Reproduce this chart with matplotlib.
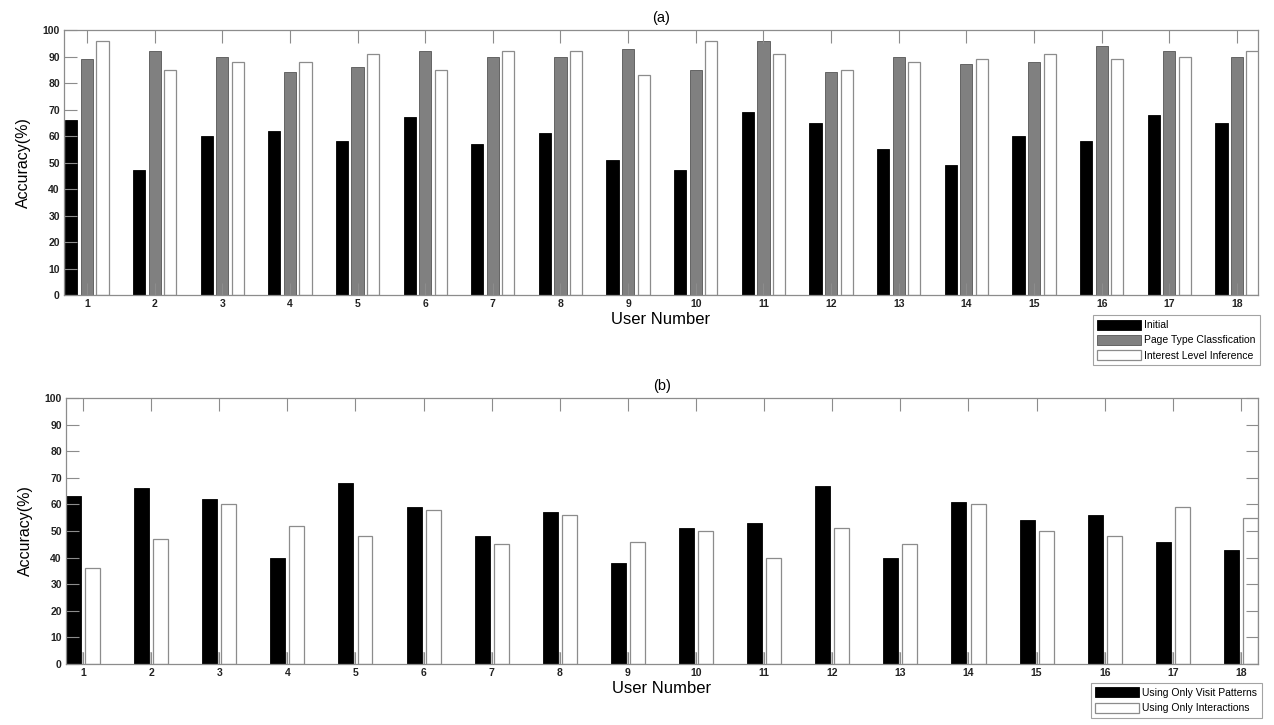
import numpy as np
import matplotlib
matplotlib.use("Agg")
import matplotlib.pyplot as plt

plt.rcParams["font.family"] = ["Liberation Sans", "DejaVu Sans"]

users = list(range(1, 19))

# panel (a)
initial = [66, 47, 60, 62, 58, 67, 57, 61, 51, 47, 69, 65, 55, 49, 60, 58, 68, 65]
page_type = [89, 92, 90, 84, 86, 92, 90, 90, 93, 85, 96, 84, 90, 87, 88, 94, 92, 90]
interest = [96, 85, 88, 88, 91, 85, 92, 92, 83, 96, 91, 85, 88, 89, 91, 89, 90, 92]

# panel (b)
visit_only = [63, 66, 62, 40, 68, 59, 48, 57, 38, 51, 53, 67, 40, 61, 54, 56, 46, 43]
interact_only = [36, 47, 60, 52, 48, 58, 45, 56, 46, 50, 40, 51, 45, 60, 50, 48, 59, 55]
hidden_b = [4.5] * 18

FRAME = "#8c8c8c"


def style_axes(ax, xlim, right_ticks=True):
    ax.set_xlim(*xlim)
    ax.set_ylim(0, 100)
    ax.set_xticks(users)
    ax.set_yticks(range(0, 101, 10))
    ax.tick_params(direction="in", length=9, width=0.8, color=FRAME,
                   labelsize=7.5, top=True, right=right_ticks, pad=3)
    for lbl in ax.get_xticklabels() + ax.get_yticklabels():
        lbl.set_fontweight("bold")
        lbl.set_color("#222222")
    for s in ax.spines.values():
        s.set_color(FRAME)
        s.set_linewidth(0.9)
    ax.set_xlabel("User Number", fontsize=12, labelpad=2)
    ax.set_ylabel("Accuracy(%)", fontsize=11.5, labelpad=8)


def add_legend(ax, anchor):
    leg = ax.legend(loc="upper right", bbox_to_anchor=anchor, fontsize=7.5,
                    fancybox=False, edgecolor=FRAME, handlelength=4.2, handleheight=1.1,
                    handletextpad=0.25, borderpad=0.45, labelspacing=0.45,
                    borderaxespad=0)
    leg.get_frame().set_linewidth(0.8)
    return leg


fig = plt.figure(figsize=(12.74, 7.25), dpi=100)

x = np.array(users, dtype=float)

ax1 = fig.add_axes([0.0502, 0.5931, 0.9372, 0.3655])
w = 0.18
ax1.bar(x - 0.23, initial, w, color="black", edgecolor="black", linewidth=0.6, label="Initial")
ax1.bar(x, page_type, w, color="#808080", edgecolor="#555555", linewidth=0.6,
        label="Page Type Classfication")
ax1.bar(x + 0.23, interest, w, color="white", edgecolor=FRAME, linewidth=0.9,
        label="Interest Level Inference")
style_axes(ax1, (0.66, 18.31), right_ticks=False)
ax1.set_title("(a)", fontsize=10.5, pad=6)
add_legend(ax1, (1.0016, -0.075))

ax2 = fig.add_axes([0.0518, 0.0841, 0.9356, 0.3669])
w2 = 0.22
ax2.bar(x - 0.14, visit_only, w2, color="black", edgecolor="black", linewidth=0.6,
        label="Using Only Visit Patterns")
ax2.bar(x, hidden_b, 0.03, color="#c8c8c8", edgecolor="none")
ax2.bar(x + 0.14, interact_only, w2, color="white", edgecolor=FRAME, linewidth=0.9,
        label="Using Only Interactions")
style_axes(ax2, (0.75, 18.25))
ax2.set_title("(b)", fontsize=10.5, pad=6)
add_legend(ax2, (1.003, -0.07))

fig.savefig("out.png", dpi=100)
